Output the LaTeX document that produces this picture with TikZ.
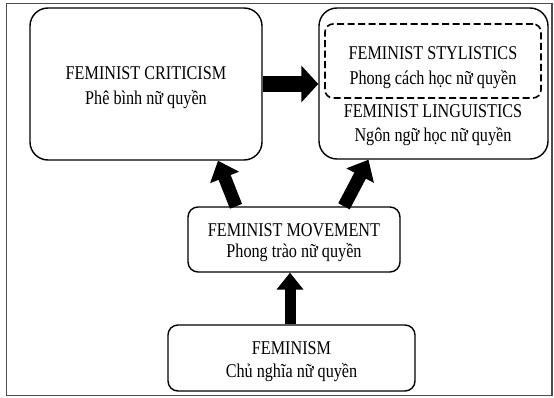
\documentclass[tikz,border=0pt]{standalone}
\usepackage{fontspec}
\setmainfont{Liberation Serif}[FakeStretch=0.83]
\usetikzlibrary{arrows.meta}

\tikzset{
  panel/.style={draw, line width=1.4pt, rounded corners=#1, inner sep=0pt},
  panel/.default=18pt,
  caption/.style={align=center, font=\fontsize{19.5}{#1}\selectfont},
  caption/.default=25,
  fatarrow/.style={line width=#1, -{Triangle[length=18pt,width=30pt]}},
  fatarrow/.default=13pt
}

\begin{document}
\begin{tikzpicture}[x=1pt,y=-1pt]
        \useasboundingbox (0,0) rectangle (554,398);
        % frame
        \draw[line width=1.6pt, black!70] (6.5,3.5) rectangle (552,395.5);
        % boxes
        \node[panel, minimum width=232pt, minimum height=152pt] (crit) at (146,84) {};
        \node[caption] (crittxt) at (146,88) {FEMINIST CRITICISM\\Phê bình nữ quyền};
        \node[panel, minimum width=229pt, minimum height=151pt] (ling) at (433.5,83.5) {};
        \node[panel=8pt, dash pattern=on 7pt off 3.5pt, line width=1.6pt,
            minimum width=216pt, minimum height=74pt] (styl) at (433,61) {};
        \node[caption] (styltxt) at (433,68) {FEMINIST STYLISTICS\\Phong cách học nữ quyền};
        \node[caption=24] (lingtxt) at (433,125) {FEMINIST LINGUISTICS\\Ngôn ngữ học nữ quyền};
        \node[panel=10pt, minimum width=212pt, minimum height=65pt] (move) at (294,239.5) {};
        \node[caption=21] (movetxt) at (294,243) {FEMINIST MOVEMENT\\Phong trào nữ quyền};
        \node[panel=10pt, minimum width=247pt, minimum height=66pt] (fem) at (291.5,358) {};
        \node[caption=23] (femtxt) at (291.5,362) {FEMINISM\\Chủ nghĩa nữ quyền};
        % arrows
        \draw[fatarrow=16pt, -{Triangle[length=17pt,width=36pt]}]
            (crit.east) -- (crit.east -| ling.west);
        \draw[fatarrow=11pt, -{Triangle[length=17pt,width=26pt]}]
            (fem.north -| 290,0) -- (move.south -| 290,0);
        \draw[fatarrow] ([xshift=-58pt]move.north) -- ([xshift=72pt]crit.south);
        \draw[fatarrow] ([xshift=50pt]move.north) -- ([xshift=-65pt]ling.south);
    \end{tikzpicture}
\end{document}
